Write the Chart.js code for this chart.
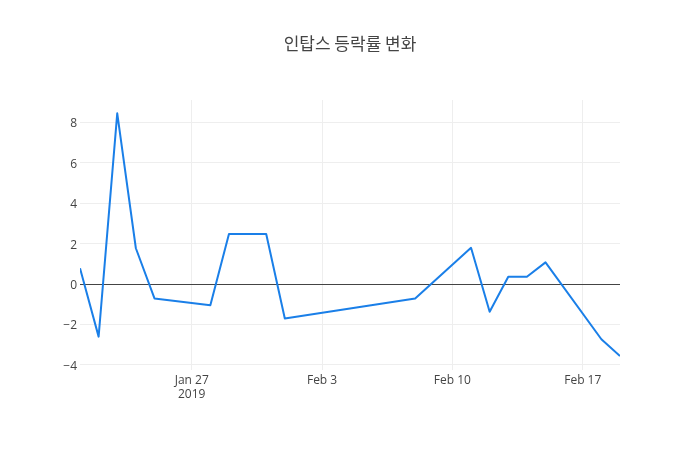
<!DOCTYPE html>
<html>
<head>
<meta charset="utf-8">
<script src="https://cdn.jsdelivr.net/npm/chart.js@4"></script>
<style>
html,body{margin:0;padding:0;background:#fff;}
#wrap{width:700px;height:450px;position:relative;}
</style>
</head>
<body>
<div id="wrap"><canvas id="c" width="700" height="450"></canvas></div>
<script>
// Day offsets from 2019-01-21
const dates = ["2019-01-21","2019-01-22","2019-01-23","2019-01-24","2019-01-25","2019-01-28","2019-01-29","2019-01-31","2019-02-01","2019-02-08","2019-02-11","2019-02-12","2019-02-13","2019-02-14","2019-02-15","2019-02-18","2019-02-19"];
const changes = [0.78,-2.6,8.44,1.77,-0.71,-1.05,2.47,2.47,-1.70,-0.71,1.79,-1.37,0.36,0.36,1.07,-2.73,-3.56];
const tickDays = [6,13,20,27];
const tickLabels = [["Jan 27","2019"],["Feb 3"],["Feb 10"],["Feb 17"]];
const title = "인탑스 등락률 변화";

const base = Date.UTC(2019,0,21);
const dayOf = s => { const p = s.split("-"); return (Date.UTC(+p[0], +p[1]-1, +p[2]) - base)/86400000; };
const pts = dates.map((d,i)=>({x: dayOf(d), y: changes[i]}));

const font = "'Open Sans', 'Noto Sans', sans-serif";

const titlePlugin = {
  id:'titlePlugin',
  afterDraw(chart){
    const ctx = chart.ctx;
    ctx.save();
    ctx.font = "17px 'Noto Sans CJK KR', sans-serif";
    ctx.fillStyle = '#444';
    ctx.textAlign = 'center';
    ctx.textBaseline = 'middle';
    ctx.fillText(title, 350, 44);
    ctx.restore();
  }
};

new Chart(document.getElementById('c'), {
  type:'line',
  data:{ datasets:[{ data: pts, borderColor:'#1a7fe8', borderWidth:2, borderJoinStyle:'round', pointRadius:0, tension:0, fill:false }]},
  plugins:[titlePlugin],
  options:{
    responsive:false, animation:false,
    layout:{ padding:{ top:100, right:80, bottom:0, left:0 } },
    plugins:{ legend:{display:false}, tooltip:{enabled:false}, title:{display:false} },
    scales:{
      x:{
        type:'linear', min:0, max:29,
        afterBuildTicks(s){ s.ticks = tickDays.map(v=>({value:v})); },
        afterFit(s){ s.height = 80; },
        border:{display:false},
        grid:{ color:'#eee', drawTicks:false, lineWidth:1 },
        ticks:{ color:'#444', font:{family:font, size:12}, padding:3, maxRotation:0,
          callback:(v)=>{ const i = tickDays.indexOf(v); return i>=0 ? tickLabels[i] : ''; } }
      },
      y:{
        min:-4.25, max:9.1,
        afterBuildTicks(s){ s.ticks = [-4,-2,0,2,4,6,8].map(v=>({value:v})); },
        afterFit(s){ s.width = 80; },
        border:{display:false},
        grid:{ color:(c)=> c.tick && c.tick.value===0 ? '#444' : '#eee', drawTicks:false, lineWidth:1 },
        ticks:{ color:'#444', font:{family:font, size:12}, padding:3, labelOffset:1.5,
          callback:(v)=> v<0 ? '\u2212'+Math.abs(v) : String(v) }
      }
    }
  }
});
</script>
</body>
</html>
